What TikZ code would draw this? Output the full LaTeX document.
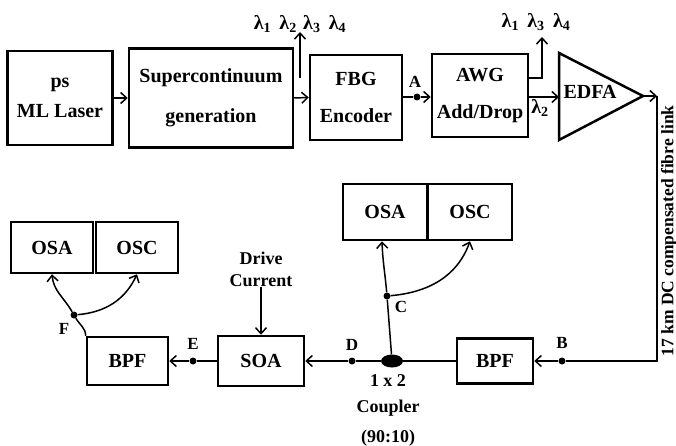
\documentclass[tikz,border=0pt]{standalone}
\usepackage{fontspec}
\setmainfont{Liberation Serif}
\usetikzlibrary{arrows.meta,shapes.geometric}

\tikzset{
  blk/.style={draw, line width=2.5pt, align=center, inner sep=0pt,
    font=\fontsize{20}{22}\selectfont\bfseries},
  sig/.style={line width=1.5pt},
  arr/.style={sig, -{Straight Barb[length=6pt,width=11pt,line width=1.5pt]}},
  pt/.style={circle, fill, inner sep=0pt, minimum size=7pt},
  lbl/.style={font=\fontsize{17}{19}\selectfont\bfseries, inner sep=1pt},
  note/.style={font=\fontsize{18}{20}\selectfont\bfseries, align=center, inner sep=0pt},
  lam/.style={note, font=\fontsize{20}{22}\selectfont\bfseries},
}

\begin{document}
\begin{tikzpicture}[x=1pt, y=-1pt]
  \useasboundingbox (0,0) rectangle (676,446);

  % Top row: source and encoder
  \node[blk, minimum width=105pt, minimum height=94pt] (laser) at (60,98) {ps\\[8pt]ML Laser};
  \node[blk, minimum width=164pt, minimum height=99pt] (sc) at (211,98) {Supercontinuum\\[18pt]generation};
  \node[blk, minimum width=92pt, minimum height=85pt] (fbg) at (356,97.5) {FBG\\[15pt]Encoder};
  \node[blk, minimum width=96pt, minimum height=83pt] (awg) at (480,95.5) {AWG\\[15pt]Add/Drop};

  \draw[arr] (laser.east) -- (sc.west);
  \draw[arr] (sc.east) -- (fbg.west);

  % Spectrum tapped off after supercontinuum
  \coordinate (scdrop) at (300,78);
  \coordinate (sctop) at (300,32);
  \draw[arr] (scdrop) -- (sctop);
  \node[lam, anchor=east] (lamA) at (297,24) {λ\textsubscript{1}\, λ\textsubscript{2}};
  \node[lam, anchor=west] (lamB) at (303,24) {λ\textsubscript{3}\, λ\textsubscript{4}};

  % Point A
  \node[pt] (A) at (417,97) {};
  \node[lbl] at (415,82) {A};
  \draw[sig] (fbg.east |- A) -- (A);
  \draw[arr] (A) -- (A -| awg.west);

  % Drop branch of the AWG
  \coordinate (awgbend) at (542,78);
  \coordinate (awgtop) at (542,37);
  \draw[arr] (awg.east |- awgbend) -- (awgbend) -- (awgtop);
  \node[lam] (lamC) at (536,22) {λ\textsubscript{1}\, λ\textsubscript{3}\, λ\textsubscript{4}};
  \node[lam] (lamD) at (540,108) {λ\textsubscript{2}};

  % EDFA
  \coordinate (edfaA) at (559,53);
  \coordinate (edfatip) at (643,96);
  \coordinate (edfaC) at (559,140);
  \draw[line width=2.5pt] (edfaA) -- (edfatip) -- (edfaC) -- cycle;
  \node[note, font=\fontsize{20}{22}\selectfont\bfseries] (edfa) at (590,92) {EDFA};
  \coordinate (edfain) at (559,97);
  \draw[arr] (awg.east |- edfain) -- (edfain);

  % Fibre link
  \coordinate (fibreNE) at (657,96);
  \coordinate (fibreSE) at (657,361);
  \draw[arr] (edfatip) -- (fibreNE);
  \node[note, rotate=90, font=\fontsize{17.5}{19}\selectfont\bfseries] (fibre) at (669,231)
    {17 km DC compensated fibre link};

  % Bottom row: receiver side
  \node[blk, minimum width=76pt, minimum height=45pt] (bpf2) at (495,361) {BPF};
  \node[ellipse, fill, minimum width=22pt, minimum height=13pt, inner sep=0pt] (coupler) at (392,361) {};
  \node[blk, minimum width=86pt, minimum height=50pt] (soa) at (261,361) {SOA};
  \node[blk, minimum width=81pt, minimum height=48pt] (bpf1) at (127.5,361) {BPF};

  \node[pt] (B) at (562,361) {};
  \node[lbl] at (562,343) {B};
  \node[pt] (D) at (352,361) {};
  \node[lbl] at (352,345) {D};
  \node[pt] (E) at (193,361) {};
  \node[lbl] at (193,344) {E};

  \draw[sig] (fibreNE) -- (fibreSE) -- (B);
  \draw[arr] (B) -- (bpf2.east);
  \draw[sig] (bpf2.west) -- (coupler);
  \draw[sig] (coupler) -- (D);
  \draw[arr] (D) -- (soa.east);
  \draw[sig] (soa.west) -- (E);
  \draw[arr] (E) -- (bpf1.east);

  \node[note] (cplr) at (388,410) {1 x 2\\[6pt]Coupler\\[10pt](90:10)};

  \node[note] (drive) at (261,269) {Drive\\[2pt]Current};
  \draw[arr] (drive.south) -- (drive.south |- soa.north);

  % Monitors at C
  \node[blk, minimum width=84pt, minimum height=56pt] (osa2) at (385,212) {OSA};
  \node[blk, minimum width=84pt, minimum height=56pt] (osc2) at (470,212) {OSC};
  \node[pt] (C) at (387,296) {};
  \node[lbl] at (401,307) {C};
  \draw[sig] (coupler) -- (C);
  \draw[arr] (C) to[out=95,in=-88] ([xshift=-3pt]osa2.south);
  \draw[arr] (C) to[out=5,in=-110] (osc2.south);

  % Monitors at F
  \node[blk, minimum width=82pt, minimum height=51pt] (osa1) at (52,247.5) {OSA};
  \node[blk, minimum width=82pt, minimum height=51pt] (osc1) at (137,247.5) {OSC};
  \node[pt] (F) at (74,315) {};
  \node[lbl] at (64,329) {F};
  \draw[sig] (bpf1.north west) to[out=92,in=-60] (F);
  \draw[arr] (F) to[out=120,in=-85] (osa1.south);
  \draw[arr] (F) to[out=5,in=-115] (osc1.south);
\end{tikzpicture}
\end{document}
